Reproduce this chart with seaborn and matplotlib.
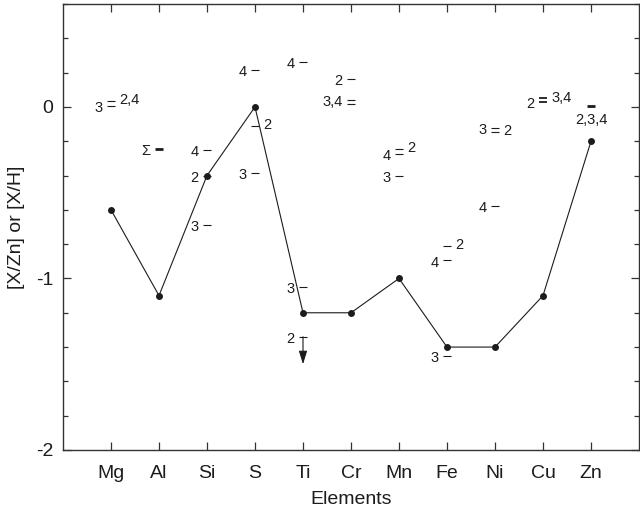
import numpy as np
import pandas as pd
import matplotlib
matplotlib.use("Agg")
import matplotlib.pyplot as plt
from matplotlib.ticker import MultipleLocator
import seaborn as sns

# abundances along the line
elements = ["Mg", "Al", "Si", "S", "Ti", "Cr", "Mn", "Fe", "Ni", "Cu", "Zn"]
abundance = [-0.6, -1.1, -0.4, 0.0, -1.2, -1.2, -1.0, -1.4, -1.4, -1.1, -0.2]

# single estimates drawn as short dashes (element, value, label)
dash_element = ["Mg", "Mg", "Al", "Si", "Si", "Si", "S", "S", "S",
                "Ti", "Ti", "Cr", "Cr", "Cr", "Mn", "Mn", "Mn",
                "Fe", "Fe", "Fe", "Ni", "Ni", "Ni", "Cu", "Cu", "Zn"]
dash_value = [0.035, 0.006, -0.245, -0.25, -0.40, -0.69, 0.215, -0.11, -0.385,
              0.26, -1.047, 0.163, 0.041, 0.017, -0.244, -0.273, -0.405,
              -0.808, -0.895, -1.453, -0.122, -0.145, -0.575, 0.050, 0.027, 0.006]
dash_label = ["2,4", "3", "\u03a3", "4", "2", "3", "4", "2", "3",
              "4", "3", "2", "3,4", "", "2", "4", "3",
              "2", "4", "3", "3", "2", "4", "3,4", "2", "2,3,4"]

# upper limit for Ti
limit_element = "Ti"
limit_value = -1.34
limit_label = "2"

# layout of the labels: l = left of dash, r = right, b = below
label_side = ["r", "l", "l", "l", "l", "l", "l", "r", "l",
              "l", "l", "l", "l", "l", "r", "l", "l",
              "r", "l", "l", "l", "r", "l", "r", "l", "b"]
dash_width = {"Al": 2.0, "Zn": 2.0, "Cu": 1.3}
side_offset = {"l": (-6, -1.5, "right"), "r": (6, 0.5, "left"), "b": (0, -10, "center")}
arrow_length = 0.16

sns.set_style("ticks")
plt.rcParams["font.family"] = ["Liberation Sans", "DejaVu Sans"]
plt.rcParams["axes.unicode_minus"] = False

ink = "#1c1c1c"
xpos = {name: i for i, name in enumerate(elements)}

fig = plt.figure(figsize=(6.4, 5.15), dpi=100)
ax = fig.add_axes([63 / 640, 65 / 515, 576 / 640, 446 / 515])

df = pd.DataFrame({"x": range(len(elements)), "y": abundance})
sns.lineplot(data=df, x="x", y="y", ax=ax, color=ink, linewidth=0.8,
             marker="o", markersize=5, markeredgewidth=0, zorder=3)

for el, val, lab, side in zip(dash_element, dash_value, dash_label, label_side):
    x = xpos[el]
    ax.plot([x], [val], marker="_", markersize=6, markeredgewidth=dash_width.get(el, 0.8),
            color=ink, linestyle="none", zorder=2)
    if lab:
        dx, dy, ha = side_offset[side]
        ax.annotate(lab, (x, val), xytext=(dx, dy), textcoords="offset points",
                    ha=ha, va="center", fontsize=10.5, color=ink)

# Ti upper limit with arrow
lx = xpos[limit_element]
ax.plot([lx], [limit_value], marker="_", markersize=6, markeredgewidth=0.8,
        color=ink, linestyle="none")
ax.annotate("", xy=(lx, limit_value - arrow_length), xytext=(lx, limit_value),
            arrowprops=dict(arrowstyle="-|>,head_length=0.8,head_width=0.25", color=ink, lw=0.8,
                            mutation_scale=10, shrinkA=0, shrinkB=0))
ax.annotate(limit_label, (lx, limit_value), xytext=(-6, -1.5), textcoords="offset points",
            ha="right", va="center", fontsize=10.5, color=ink)

ax.set_xlim(-1, 11)
ax.set_ylim(-2, 0.6)
ax.set_xticks(range(len(elements)), elements)
ax.set_yticks([-2, -1, 0], ["-2", "-1", "0"])
ax.yaxis.set_minor_locator(MultipleLocator(0.2))

ax.tick_params(axis="both", which="both", direction="in", top=True, right=True,
               colors="#333333", labelcolor=ink, labelsize=14, width=0.9)
ax.tick_params(axis="both", which="major", length=6)
ax.tick_params(axis="y", which="minor", length=3.5)
ax.tick_params(axis="x", pad=11)
ax.tick_params(axis="y", pad=7)

for sp in ax.spines.values():
    sp.set_visible(True)
    sp.set_color("#333333")
    sp.set_linewidth(1.0)

ax.set_xlabel("Elements", fontsize=14, color=ink, labelpad=6)
ax.set_ylabel("[X/Zn] or [X/H]", fontsize=14, color=ink, labelpad=8)

fig.savefig("out.png", dpi=100)
